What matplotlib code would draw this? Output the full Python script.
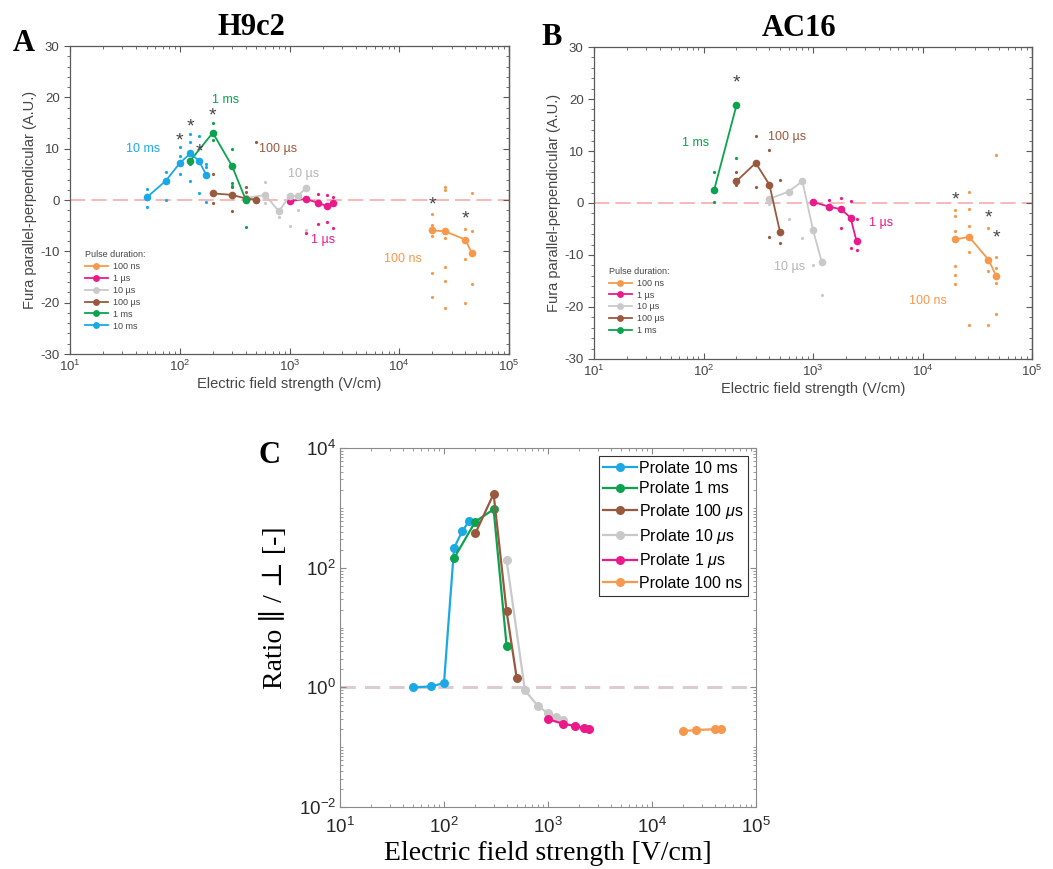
import matplotlib
matplotlib.use("Agg")
import matplotlib.pyplot as plt
from matplotlib import ticker
import numpy as np

plt.rcParams["font.family"] = ["Liberation Sans", "DejaVu Sans"]
plt.rcParams["mathtext.fontset"] = "custom"
plt.rcParams["mathtext.rm"] = "Liberation Sans"
plt.rcParams["mathtext.it"] = "Liberation Sans:italic"
plt.rcParams["axes.unicode_minus"] = False

# colours per pulse duration
BLUE = "#1BA9E6"
GREEN = "#0DA34E"
BROWN = "#99593F"
GRAY = "#C9C9C9"
PINK = "#EA1A8A"
ORANGE = "#F7994C"
TXT = "#454545"

# ---------------------------------------------------------------- panel A (H9c2)
A_E_10ms = [50, 75, 100, 125, 150, 175]
A_Y_10ms = [0.5, 3.8, 7.2, 9.1, 7.6, 4.8]
A_E_1ms = [125, 200, 300, 400]
A_Y_1ms = [7.7, 13.1, 6.6, 0.0]
A_E_100us = [200, 300, 400, 500]
A_Y_100us = [1.3, 1.0, 0.3, 0.1]
A_E_10us = [400, 600, 800, 1000, 1200, 1400]
A_Y_10us = [0.4, 1.0, -2.2, 0.8, 0.8, 2.3]
A_E_1us = [1000, 1400, 1800, 2200, 2500]
A_Y_1us = [-0.2, 0.2, -0.5, -1.2, -0.6]
A_E_100ns = [20000, 26000, 40000, 46000]
A_Y_100ns = [-5.9, -6.1, -7.7, -10.4]

# individual replicates (E, value)
A_REP_10ms = ([50, 50, 75, 75, 100, 100, 100, 125, 125, 125, 150, 150, 175, 175, 175],
              [2.1, -1.3, 5.5, 0.1, 10.3, 8.5, 5.1, 12.9, 11.4, 3.8, 12.4, 1.3, 7.0, 6.4, -0.4])
A_REP_1ms = ([125, 200, 200, 300, 300, 300, 400, 400],
             [7.0, 15.1, 11.7, 9.9, 3.3, 2.7, 0.8, -5.3])
A_REP_100us = ([200, 200, 300, 300, 400, 400, 500],
               [5.0, -0.5, 2.5, -2.2, 2.5, 1.5, 11.4])
A_REP_10us = ([600, 600, 800, 1000, 1200, 1400],
              [3.6, -0.5, -3.3, -5.1, -2.0, -5.9])
A_REP_1us = ([1400, 1800, 1800, 2200, 2200, 2500, 2500],
             [-6.4, 1.2, -4.6, 1.0, -4.3, 0.5, -5.4])
A_REP_100ns = ([20000, 20000, 20000, 20000, 20000, 26000, 26000, 26000, 26000, 26000, 26000,
                40000, 40000, 40000, 46000, 46000, 46000],
               [-2.7, -4.8, -7.0, -14.3, -18.8, 2.6, 2.0, -7.3, -13.0, -15.7, -21.0,
                -5.7, -11.4, -20.1, 1.3, -6.1, -16.4])
A_STARS = ([100, 125, 150, 200, 20000, 40000], [11.6, 14.2, 9.3, 16.3, -0.9, -3.7])

# ---------------------------------------------------------------- panel B (AC16)
B_E_1ms = [125, 200]
B_Y_1ms = [2.5, 18.8]
B_E_100us = [200, 300, 400, 500]
B_Y_100us = [4.2, 7.7, 3.5, -5.6]
B_E_10us = [400, 600, 800, 1000, 1200]
B_Y_10us = [0.8, 2.2, 4.2, -5.2, -11.3]
B_E_1us = [1000, 1400, 1800, 2200, 2500]
B_Y_1us = [0.2, -0.7, -1.2, -2.8, -7.4]
B_E_100ns = [20000, 26600, 40000, 47000]
B_Y_100ns = [-7.0, -6.5, -10.9, -14.0]

B_REP_1ms = ([125, 125, 200], [5.9, 0.1, 8.6])
B_REP_100us = ([200, 200, 300, 300, 400, 400, 500, 500],
               [5.9, 3.5, 12.9, 3.0, 10.1, -6.6, 4.4, -7.7])
B_REP_10us = ([400, 600, 800, 1000, 1200], [-0.2, -3.0, -6.8, -12.0, -17.6])
B_REP_1us = ([1400, 1800, 1800, 2200, 2200, 2500, 2500],
             [0.5, 1.0, -4.9, 0.3, -8.6, -3.1, -9.0])
B_REP_100ns = ([20000, 20000, 20000, 20000, 20000, 20000, 26600, 26600, 26600, 26600, 26600,
                40000, 40000, 40000, 47000, 47000, 47000, 47000, 47000],
               [-1.3, -2.5, -5.4, -12.2, -13.9, -15.6, 2.2, -1.2, -4.5, -9.5, -23.5,
                -4.9, -13.0, -23.5, 9.2, -10.4, -12.5, -15.4, -21.3])
B_STARS = ([200, 20000, 40000, 47000], [23.0, 0.6, -2.9, -6.8])

# ---------------------------------------------------------------- panel C (model ratio)
C_E_10ms = [50, 75, 100, 125, 150, 175]
C_R_10ms = [1.0, 1.04, 1.18, 215, 410, 610]
C_E_1ms = [125, 200, 300, 400]
C_R_1ms = [145, 590, 950, 5.0]
C_E_100us = [200, 300, 400, 500]
C_R_100us = [375, 1720, 18.7, 1.45]
C_E_10us = [400, 600, 800, 1000, 1200, 1400]
C_R_10us = [134, 0.89, 0.49, 0.37, 0.32, 0.28]
C_E_1us = [1000, 1400, 1800, 2200, 2500]
C_R_1us = [0.295, 0.246, 0.228, 0.211, 0.203]
C_E_100ns = [20000, 26600, 40000, 46600]
C_R_100ns = [0.186, 0.194, 0.200, 0.203]


def style_field_axes(ax):
    ax.set_xscale("log")
    ax.set_xlim(10, 1e5)
    ax.set_ylim(-30, 30)
    ax.set_yticks([-30, -20, -10, 0, 10, 20, 30])
    ax.yaxis.set_minor_locator(ticker.MultipleLocator(2))
    ax.xaxis.set_minor_locator(ticker.LogLocator(base=10, subs=np.arange(2, 10), numticks=20))
    ax.xaxis.set_major_formatter(ticker.LogFormatterSciNotation())
    for s in ax.spines.values():
        s.set_color("#5a5a5a")
        s.set_linewidth(0.9)
    ax.tick_params(which="both", colors="#5a5a5a", labelcolor=TXT, labelsize=9.5,
                   direction="in", top=True)
    # left ticks point outwards, right-hand ticks inwards (drawn by a secondary axis)
    ax.tick_params(axis="y", which="both", direction="out", right=False)
    ax.tick_params(axis="y", which="major", length=4)
    ax.tick_params(axis="y", which="minor", length=2.5)
    ax.tick_params(axis="x", which="major", length=4)
    ax.tick_params(axis="x", which="minor", length=2.5)
    sec = ax.secondary_yaxis("right")
    sec.set_yticks([-30, -20, -10, 0, 10, 20, 30])
    sec.yaxis.set_minor_locator(ticker.MultipleLocator(2))
    sec.tick_params(which="both", direction="in", colors="#5a5a5a", labelright=False)
    sec.tick_params(which="major", length=4)
    sec.tick_params(which="minor", length=2.5)
    sec.spines["right"].set_color("#5a5a5a")
    sec.spines["right"].set_linewidth(0.9)
    ax.axhline(0, color="#F2A7A5", lw=1.1, dashes=(10, 4), zorder=0)
    ax.set_xlabel("Electric field strength (V/cm)", fontsize=10.5, color=TXT, labelpad=2)
    ax.set_ylabel("Fura parallel-perpendicular (A.U.)", fontsize=10.5, color=TXT, labelpad=2)


def draw_series(ax, e, y, rep, color, label):
    ax.plot(rep[0], rep[1], "o", ms=2.3, color=color, mec="none", zorder=2)
    h, = ax.plot(e, y, "-o", color=color, lw=1.3, ms=5.5, mec="none", label=label, zorder=3)
    return h


def draw_stars(ax, stars):
    for x, y in zip(*stars):
        ax.text(x, y, "*", ha="center", va="center", fontsize=14, color="#444444", zorder=4)


def finish_legend(ax, handles):
    leg = ax.legend(list(handles.values()), list(handles.keys()), loc="lower left",
                    bbox_to_anchor=(0.015, 0.05), frameon=False, fontsize=6.5,
                    title="Pulse duration:", title_fontsize=6.5, alignment="left",
                    handlelength=2.6, handletextpad=0.5, labelspacing=0.32,
                    markerscale=0.9)
    for t in leg.get_texts():
        t.set_color(TXT)
    leg.get_title().set_color(TXT)


fig = plt.figure(figsize=(10.53, 8.69), dpi=100)

# ---------------------------------------------------------------- A
axA = fig.add_axes([0.0665, 0.5926, 0.4169, 0.3544])
style_field_axes(axA)
hA = {}
hA["100 ns"] = draw_series(axA, A_E_100ns, A_Y_100ns, A_REP_100ns, ORANGE, "100 ns")
hA["1 µs"] = draw_series(axA, A_E_1us, A_Y_1us, A_REP_1us, PINK, "1 µs")
hA["10 µs"] = draw_series(axA, A_E_10us, A_Y_10us, A_REP_10us, GRAY, "10 µs")
hA["100 µs"] = draw_series(axA, A_E_100us, A_Y_100us, A_REP_100us, BROWN, "100 µs")
hA["1 ms"] = draw_series(axA, A_E_1ms, A_Y_1ms, A_REP_1ms, GREEN, "1 ms")
hA["10 ms"] = draw_series(axA, A_E_10ms, A_Y_10ms, A_REP_10ms, BLUE, "10 ms")
draw_stars(axA, A_STARS)
for x, y, t, c in [(46.6, 9.85, "10 ms", BLUE), (262, 19.4, "1 ms", GREEN),
                   (791, 9.85, "100 µs", BROWN), (1355, 5.1, "10 µs", "#B5B5B5"),
                   (2005, -7.7, "1 µs", PINK), (10900, -11.5, "100 ns", ORANGE)]:
    axA.text(x, y, t, color=c, fontsize=9, ha="center", va="center")
finish_legend(axA, hA)

# ---------------------------------------------------------------- B
axB = fig.add_axes([0.5641, 0.5869, 0.4160, 0.3590])
style_field_axes(axB)
hB = {}
hB["100 ns"] = draw_series(axB, B_E_100ns, B_Y_100ns, B_REP_100ns, ORANGE, "100 ns")
hB["1 µs"] = draw_series(axB, B_E_1us, B_Y_1us, B_REP_1us, PINK, "1 µs")
hB["10 µs"] = draw_series(axB, B_E_10us, B_Y_10us, B_REP_10us, GRAY, "10 µs")
hB["100 µs"] = draw_series(axB, B_E_100us, B_Y_100us, B_REP_100us, BROWN, "100 µs")
hB["1 ms"] = draw_series(axB, B_E_1ms, B_Y_1ms, B_REP_1ms, GREEN, "1 ms")
draw_stars(axB, B_STARS)
for x, y, t, c in [(84.7, 11.45, "1 ms", GREEN), (585, 12.7, "100 µs", BROWN),
                   (615, -12.3, "10 µs", "#B5B5B5"), (4220, -3.9, "1 µs", PINK),
                   (11250, -18.8, "100 ns", ORANGE)]:
    axB.text(x, y, t, color=c, fontsize=9, ha="center", va="center")
finish_legend(axB, hB)

# ---------------------------------------------------------------- C
axC = fig.add_axes([0.3229, 0.0713, 0.3950, 0.4130])
axC.set_xscale("log")
axC.set_yscale("log")
axC.set_xlim(10, 1e5)
axC.set_ylim(1e-2, 1e4)
axC.axhline(1, color="#DCCBD0", lw=2.2, dashes=(5, 3), zorder=0)
c_series = [
    (C_E_10ms, C_R_10ms, BLUE, "Prolate 10 ms"),
    (C_E_1ms, C_R_1ms, GREEN, "Prolate 1 ms"),
    (C_E_100us, C_R_100us, BROWN, r"Prolate 100 $\mu$s"),
    (C_E_10us, C_R_10us, GRAY, r"Prolate 10 $\mu$s"),
    (C_E_1us, C_R_1us, PINK, r"Prolate 1 $\mu$s"),
    (C_E_100ns, C_R_100ns, ORANGE, "Prolate 100 ns"),
]
for e, r, c, lab in c_series:
    axC.plot(e, r, "-o", color=c, lw=1.6, ms=6.5, mec="none", label=lab)
axC.set_yticks([1e-2, 1, 1e2, 1e4])
axC.set_xticks([1e1, 1e2, 1e3, 1e4, 1e5])
axC.xaxis.set_major_formatter(ticker.LogFormatterSciNotation())
axC.yaxis.set_major_formatter(ticker.LogFormatterSciNotation())
axC.xaxis.set_minor_locator(ticker.LogLocator(base=10, subs=np.arange(2, 10), numticks=20))
axC.yaxis.set_minor_locator(ticker.LogLocator(base=10, subs=np.arange(1, 10), numticks=20))
axC.yaxis.set_minor_formatter(ticker.NullFormatter())
axC.xaxis.set_minor_formatter(ticker.NullFormatter())
for s in axC.spines.values():
    s.set_color("#8a8a8a")
    s.set_linewidth(0.8)
axC.tick_params(which="both", direction="in", top=True, right=True, colors="#8a8a8a",
                labelcolor="#262626", labelsize=13.5)
axC.tick_params(which="major", length=4)
axC.tick_params(which="minor", length=2.2)
axC.tick_params(axis="x", which="major", pad=7)
axC.tick_params(axis="y", which="major", pad=3)
serif = ["Liberation Serif", "DejaVu Serif"]
axC.set_xlabel("Electric field strength [V/cm]", fontsize=20, family=serif, labelpad=3)
axC.set_ylabel("Ratio ∥ / ⊥ [-]", fontsize=20, family=serif)
axC.yaxis.set_label_coords(-0.125, 0.555)
legC = axC.legend(loc="upper right", bbox_to_anchor=(0.982, 0.978), fontsize=11.5,
                  frameon=True, fancybox=False, edgecolor="#333333", framealpha=1,
                  handlelength=2.1, handletextpad=0.15, labelspacing=0.35,
                  borderpad=0.3, borderaxespad=0)
legC.get_frame().set_linewidth(0.8)

# ---------------------------------------------------------------- titles and panel letters
fig.text(0.0228, 0.9505, "A", fontsize=22, weight="bold", family=serif, ha="center", va="center")
fig.text(0.239, 0.968, "H9c2", fontsize=22, weight="bold", family=serif, ha="center", va="center")
fig.text(0.524, 0.957, "B", fontsize=22, weight="bold", family=serif, ha="center", va="center")
fig.text(0.759, 0.967, "AC16", fontsize=22, weight="bold", family=serif, ha="center", va="center")
fig.text(0.256, 0.476, "C", fontsize=22, weight="bold", family=serif, ha="center", va="center")

fig.savefig("out.png", dpi=100)
